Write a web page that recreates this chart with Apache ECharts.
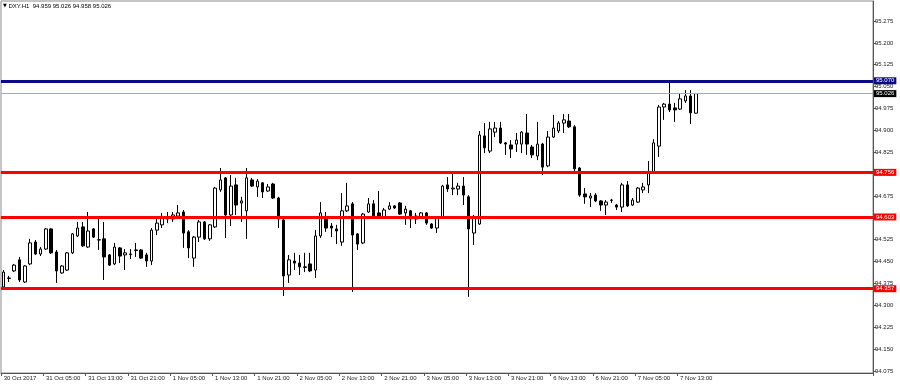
<!DOCTYPE html>
<html>
<head>
<meta charset="utf-8">
<script src="https://cdn.jsdelivr.net/npm/echarts@6/dist/echarts.min.js"></script>
<style>html,body{margin:0;padding:0;background:#fff}#c{width:900px;height:387px}</style>
</head>
<body>
<div id="c"></div>
<script>
const symbolTitle = 'DXY.H1  94.959 95.026 94.958 95.026';
const xTickLabels = ['30 Oct 2017','31 Oct 05:00','31 Oct 13:00','31 Oct 21:00','1 Nov 05:00','1 Nov 13:00','1 Nov 21:00','2 Nov 05:00','2 Nov 13:00','2 Nov 21:00','3 Nov 05:00','3 Nov 13:00','3 Nov 21:00','6 Nov 13:00','6 Nov 21:00','7 Nov 05:00','7 Nov 13:00'];
const yTicks = [94.075,94.150,94.225,94.300,94.375,94.450,94.525,94.600,94.675,94.750,94.825,94.900,94.975,95.050,95.125,95.200,95.275];
const levels = [95.070, 94.756, 94.603, 94.357];
const bidPrice = 95.026;

const open = [94.363,94.392,94.418,94.456,94.380,94.442,94.517,94.476,94.493,94.562,
94.483,94.411,94.421,94.480,94.538,94.569,94.500,94.562,94.524,94.528,
94.473,94.442,94.497,94.473,94.476,94.488,94.490,94.473,94.452,94.558,
94.576,94.603,94.596,94.606,94.620,94.552,94.462,94.534,94.586,94.528,
94.569,94.696,94.737,94.610,94.713,94.651,94.624,94.730,94.706,94.720,
94.692,94.716,94.668,94.593,94.404,94.452,94.445,94.432,94.442,94.421,
94.538,94.603,94.572,94.562,94.517,94.624,94.648,94.545,94.514,94.620,
94.648,94.617,94.603,94.630,94.641,94.651,94.617,94.624,94.596,94.603,
94.617,94.579,94.565,94.603,94.713,94.699,94.699,94.709,94.672,94.548,
94.579,94.881,94.829,94.894,94.908,94.857,94.850,94.853,94.853,94.891,
94.843,94.812,94.853,94.778,94.877,94.898,94.925,94.932,94.912,94.771,
94.682,94.668,94.678,94.658,94.644,94.661,94.644,94.637,94.713,94.644,
94.654,94.696,94.713,94.757,94.846,94.980,94.990,94.977,94.973,95.001,
95.018,94.959];
const close = [94.414,94.394,94.438,94.387,94.435,94.514,94.476,94.493,94.562,94.480,
94.418,94.435,94.480,94.545,94.565,94.504,94.555,94.534,94.525,94.466,
94.438,94.500,94.469,94.480,94.474,94.490,94.462,94.452,94.558,94.582,
94.603,94.596,94.610,94.617,94.548,94.497,94.534,94.586,94.528,94.576,
94.702,94.730,94.610,94.709,94.644,94.658,94.737,94.709,94.726,94.689,
94.706,94.668,94.596,94.401,94.456,94.445,94.432,94.430,94.418,94.538,
94.617,94.565,94.565,94.555,94.624,94.641,94.541,94.510,94.613,94.648,
94.603,94.603,94.627,94.641,94.634,94.613,94.630,94.596,94.606,94.617,
94.582,94.565,94.600,94.709,94.699,94.702,94.709,94.678,94.562,94.603,
94.884,94.840,94.905,94.908,94.857,94.853,94.836,94.867,94.894,94.853,
94.816,94.853,94.774,94.877,94.908,94.925,94.936,94.912,94.768,94.678,
94.672,94.675,94.658,94.644,94.654,94.660,94.637,94.713,94.641,94.661,
94.702,94.706,94.757,94.857,94.980,94.990,94.970,94.970,95.008,95.018,
94.960,95.026];
const low = [94.356,94.380,94.414,94.380,94.377,94.438,94.473,94.469,94.490,94.476,
94.377,94.408,94.418,94.476,94.534,94.500,94.497,94.531,94.490,94.387,
94.435,94.438,94.445,94.421,94.459,94.466,94.459,94.432,94.438,94.541,
94.565,94.582,94.586,94.603,94.497,94.462,94.432,94.517,94.524,94.521,
94.565,94.689,94.531,94.572,94.610,94.586,94.528,94.706,94.672,94.668,
94.689,94.665,94.565,94.332,94.377,94.421,94.404,94.414,94.414,94.394,
94.531,94.552,94.534,94.510,94.504,94.620,94.346,94.490,94.510,94.617,
94.600,94.600,94.600,94.627,94.630,94.610,94.576,94.565,94.579,94.596,
94.576,94.562,94.548,94.600,94.689,94.678,94.678,94.644,94.329,94.507,
94.576,94.822,94.822,94.877,94.853,94.816,94.805,94.826,94.822,94.816,
94.805,94.798,94.747,94.774,94.874,94.891,94.891,94.908,94.754,94.672,
94.648,94.637,94.654,94.624,94.610,94.651,94.627,94.620,94.637,94.641,
94.651,94.685,94.685,94.754,94.809,94.936,94.963,94.929,94.970,94.994,
94.922,94.958];
const high = [94.421,94.401,94.442,94.466,94.438,94.528,94.524,94.500,94.565,94.565,
94.490,94.438,94.483,94.548,94.586,94.586,94.620,94.565,94.603,94.586,
94.476,94.514,94.500,94.493,94.493,94.514,94.493,94.480,94.565,94.600,
94.617,94.620,94.620,94.644,94.627,94.558,94.538,94.593,94.589,94.579,
94.706,94.771,94.740,94.747,94.737,94.672,94.771,94.737,94.733,94.723,
94.716,94.720,94.672,94.600,94.473,94.480,94.473,94.480,94.480,94.558,
94.654,94.620,94.582,94.576,94.685,94.720,94.654,94.548,94.617,94.668,
94.661,94.692,94.634,94.654,94.644,94.654,94.641,94.627,94.617,94.620,
94.620,94.582,94.603,94.713,94.740,94.757,94.720,94.740,94.678,94.610,
94.898,94.925,94.929,94.929,94.929,94.860,94.867,94.891,94.898,94.956,
94.850,94.929,94.857,94.898,94.953,94.932,94.956,94.956,94.918,94.774,
94.702,94.685,94.685,94.661,94.661,94.665,94.648,94.720,94.726,94.668,
94.706,94.720,94.795,94.870,94.987,94.994,95.070,94.994,95.028,95.038,
95.038,95.026];

const SLOTS = 165;
const LABEL_STEP = 8;
const categories = [];
for (let i = 0; i < SLOTS; i++) categories.push(String(i));
const candles = open.map((o, i) => [o, close[i], low[i], high[i]]);

const FONT = 'Liberation Sans';
const levelColors = ['#0b0b8a', '#ff0000', '#ff0000', '#ff0000'];
const showTick = (i) => i % LABEL_STEP === 0 && i / LABEL_STEP < xTickLabels.length;

const markData = levels.map((v, k) => ({
  yAxis: v,
  lineStyle: { color: levelColors[k], width: 3, type: 'solid' },
  label: { backgroundColor: levelColors[k] }
}));
markData.push({
  yAxis: bidPrice,
  lineStyle: { color: '#a3a9c4', width: 1, type: 'solid' },
  label: { backgroundColor: '#000' }
});

const chart = echarts.init(document.getElementById('c'), null, { renderer: 'canvas' });
chart.setOption({
  animation: false,
  backgroundColor: '#fff',
  title: {
    text: '{t|▼} ' + symbolTitle,
    left: 3, top: 3, padding: 0,
    textStyle: { fontSize: 6, fontWeight: 'normal', color: '#000', fontFamily: FONT,
      rich: { t: { fontSize: 5, color: '#000', fontFamily: 'DejaVu Sans' } } }
  },
  grid: { left: 1, right: 27, top: 1, bottom: 14, show: true, borderColor: '#8a8a8a', borderWidth: 1 },
  xAxis: {
    type: 'category',
    data: categories,
    boundaryGap: true,
    axisLine: { lineStyle: { color: '#555', width: 1 } },
    axisTick: { show: true, interval: (i) => showTick(i), length: 3, lineStyle: { color: '#555' } },
    axisLabel: {
      interval: (i) => showTick(i),
      formatter: (v, i) => showTick(i) ? xTickLabels[i / LABEL_STEP] : '',
      align: 'left', margin: 2, fontSize: 6, color: '#222', fontFamily: FONT
    },
    splitLine: { show: false }
  },
  yAxis: {
    type: 'value',
    position: 'right',
    min: 94.068, max: 95.3436,
    axisLine: { show: true, lineStyle: { color: '#555', width: 1 } },
    axisTick: { show: true, customValues: yTicks, length: 3, lineStyle: { color: '#555' } },
    axisLabel: { customValues: yTicks, formatter: (v) => v.toFixed(3), margin: 2, fontSize: 6, color: '#222', fontFamily: FONT },
    splitLine: { show: false }
  },
  series: [{
    type: 'candlestick',
    data: candles,
    barWidth: 3,
    itemStyle: { color: '#fff', color0: '#000', borderColor: '#000', borderColor0: '#000', borderWidth: 1 },
    markLine: {
      silent: true,
      symbol: ['none', 'none'],
      precision: 3,
      data: markData,
      label: {
        position: 'end', distance: 1, color: '#fff', fontSize: 6, fontFamily: FONT,
        padding: [1, 2, 0, 2],
        formatter: (p) => Number(p.value).toFixed(3)
      }
    }
  }]
});
</script>
</body>
</html>
